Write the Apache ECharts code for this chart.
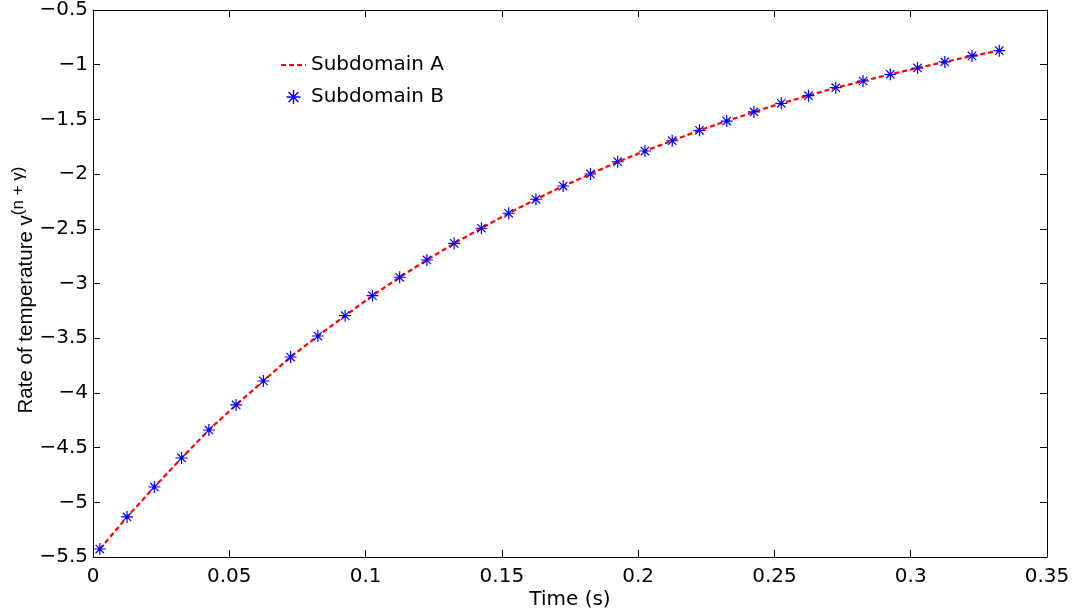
<!DOCTYPE html>
<html><head><meta charset="utf-8">
<script src="https://cdn.jsdelivr.net/npm/echarts@6/dist/echarts.min.js"></script>
<style>html,body{margin:0;padding:0;background:#fff}#c{width:1077px;height:615px}</style>
</head><body><div id="c"></div>
<script>
const times = [0.0025,0.0125,0.0225,0.0325,0.0425,0.0525,0.0625,0.0725,0.0825,0.0925,0.1025,0.1125,0.1225,0.1325,0.1425,0.1525,0.1625,0.1725,0.1825,0.1925,0.2025,0.2125,0.2225,0.2325,0.2425,0.2525,0.2625,0.2725,0.2825,0.2925,0.3025,0.3125,0.3225,0.3325];
const subdomainA = [-5.427,-5.134,-4.860,-4.595,-4.339,-4.110,-3.891,-3.672,-3.480,-3.294,-3.111,-2.943,-2.785,-2.633,-2.495,-2.358,-2.230,-2.109,-1.999,-1.887,-1.789,-1.695,-1.600,-1.515,-1.432,-1.353,-1.283,-1.210,-1.149,-1.088,-1.030,-0.975,-0.920,-0.872];
const subdomainB = [-5.427,-5.134,-4.860,-4.595,-4.339,-4.110,-3.891,-3.672,-3.480,-3.294,-3.111,-2.943,-2.785,-2.633,-2.495,-2.358,-2.230,-2.109,-1.999,-1.887,-1.789,-1.695,-1.600,-1.515,-1.432,-1.353,-1.283,-1.210,-1.149,-1.088,-1.030,-0.975,-0.920,-0.872];
const seriesNames = ['Subdomain A','Subdomain B'];
const xLabel = 'Time (s)';

const star = 'path://M0 9L20 9L20 11L0 11Z M9 0L11 0L11 20L9 20Z M2.3 3.7L3.7 2.3L17.7 16.3L16.3 17.7Z M16.3 2.3L17.7 3.7L3.7 17.7L2.3 16.3Z';
const FONT = 'DejaVu Sans, Liberation Sans, sans-serif';
const YFONT = 'Liberation Sans, Arial, sans-serif';
const minus = v => String(v).replace('-', '\u2212');

const axisCommon = {
  axisLine: {show: true, onZero: false, lineStyle: {color: '#000', width: 1}},
  axisTick: {show: true, inside: true, length: 7, lineStyle: {color: '#000'}},
  splitLine: {show: false},
  nameMoveOverlap: false
};

const chart = echarts.init(document.getElementById('c'), null, {renderer: 'canvas'});
chart.setOption({
  animation: false,
  backgroundColor: '#fff',
  grid: {left: 93, right: 30, top: 10, bottom: 58, containLabel: false, outerBoundsMode: 'none'},
  legend: {
    orient: 'vertical', left: 275, top: 50, itemGap: 12, itemWidth: 25, itemHeight: 14,
    textStyle: {fontFamily: FONT, fontSize: 20, color: '#000'},
    data: [{name: seriesNames[0], itemStyle: {opacity: 0}}, seriesNames[1]]
  },
  xAxis: [
    Object.assign({type: 'value', min: 0, max: 0.35, interval: 0.05, position: 'bottom',
      name: xLabel, nameLocation: 'middle', nameGap: 33,
      nameTextStyle: {fontFamily: FONT, fontSize: 20, color: '#000'},
      axisLabel: {fontFamily: FONT, fontSize: 20, color: '#000', margin: 10}}, axisCommon),
    Object.assign({type: 'value', min: 0, max: 0.35, interval: 0.05, position: 'top',
      axisLabel: {show: false}}, axisCommon)
  ],
  yAxis: [
    Object.assign({type: 'value', min: -5.5, max: -0.5, interval: 0.5, position: 'left',
      name: '{a|Rate of temperature v}{b|(n + \u03b3)}', nameLocation: 'middle', nameGap: 50, nameRotate: 90,
      nameTextStyle: {fontFamily: YFONT, fontSize: 20.5, color: '#000',
        rich: {a: {fontFamily: YFONT, fontSize: 20.5, color: '#000'},
               b: {fontFamily: YFONT, fontSize: 17, color: '#000', padding: [0, 13, 16, 0]}}},
      axisLabel: {fontFamily: FONT, fontSize: 20, color: '#000', margin: 5, padding: [4, 0, 0, 0], formatter: minus}}, axisCommon),
    Object.assign({type: 'value', min: -5.5, max: -0.5, interval: 0.5, position: 'right',
      axisLabel: {show: false}}, axisCommon)
  ],
  series: [
    {name: seriesNames[0], type: 'line', xAxisIndex: 0, yAxisIndex: 0,
     data: times.map((t, i) => [t, subdomainA[i]]),
     symbol: 'none', showSymbol: false,
     lineStyle: {color: '#ff0000', width: 2.2, type: [5, 3]}, itemStyle: {color: '#ff0000'}, z: 2},
    {name: seriesNames[1], type: 'scatter', xAxisIndex: 0, yAxisIndex: 0,
     data: times.map((t, i) => [t, subdomainB[i]]),
     symbol: star, symbolSize: 12, itemStyle: {color: '#0000ff', opacity: 1}, z: 3}
  ]
});
</script></body></html>
